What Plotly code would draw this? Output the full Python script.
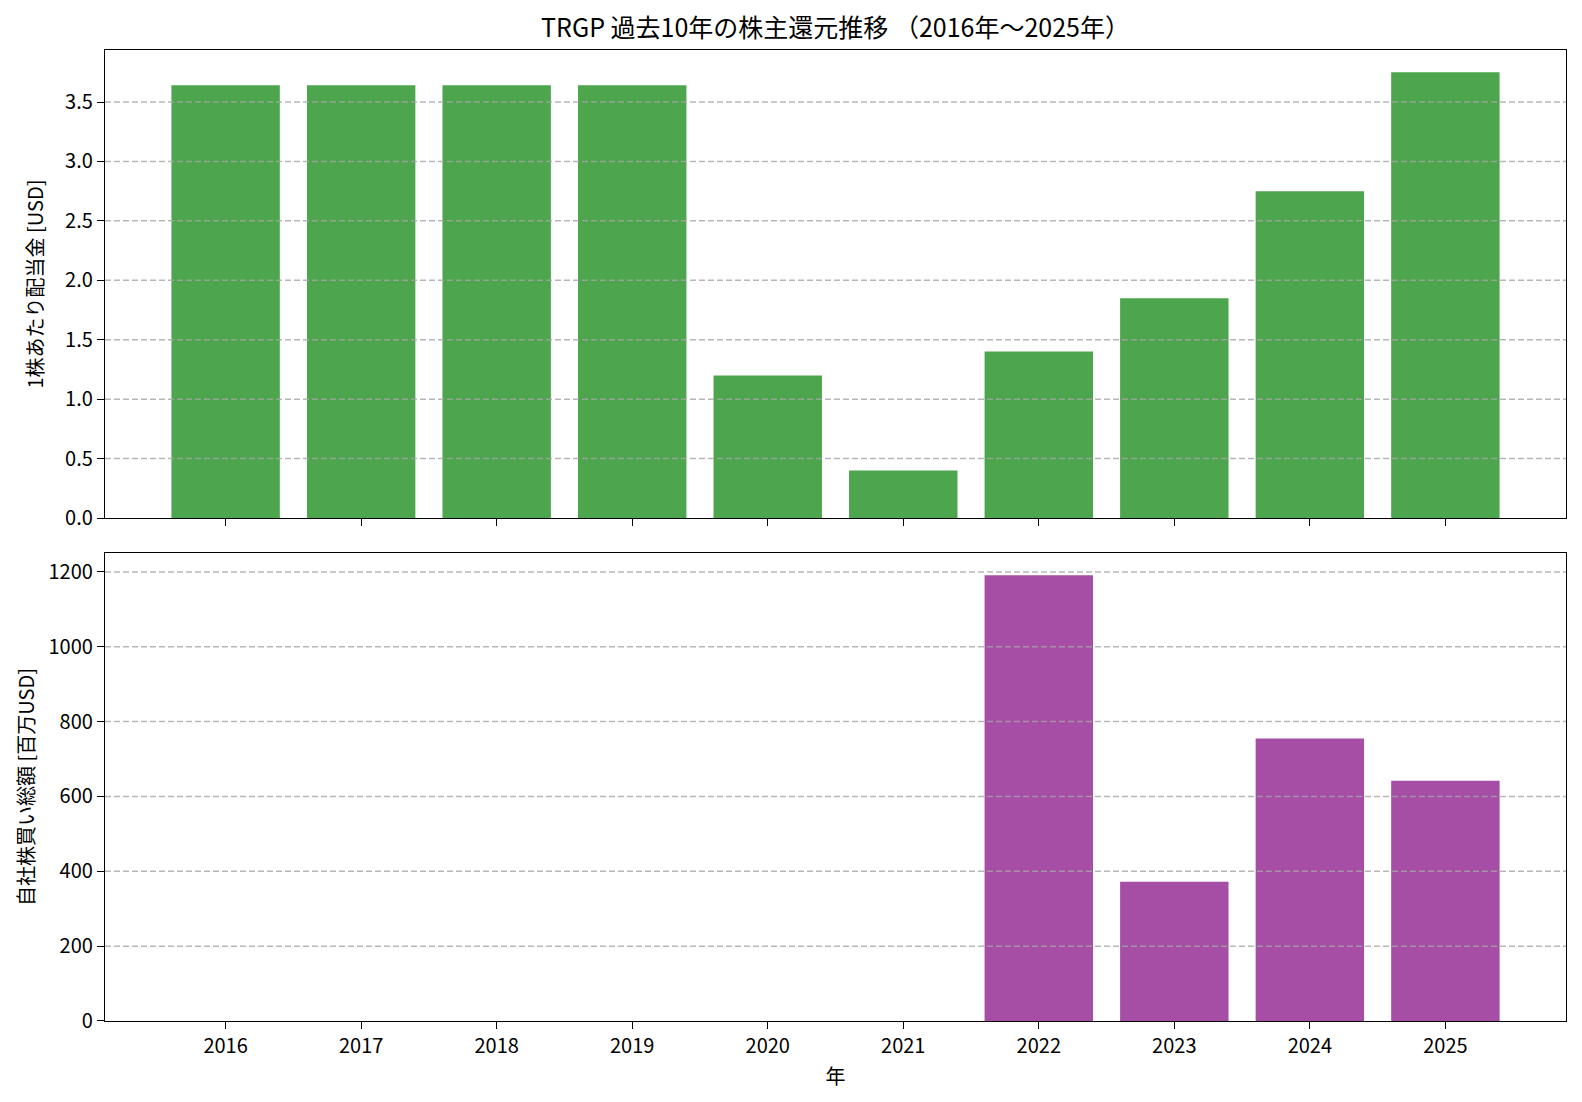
import plotly.graph_objects as go
from plotly.subplots import make_subplots

years = ["2016", "2017", "2018", "2019", "2020", "2021", "2022", "2023", "2024", "2025"]
dividends = [3.64, 3.64, 3.64, 3.64, 1.20, 0.40, 1.40, 1.85, 2.75, 3.75]
buybacks = [0, 0, 0, 0, 0, 0, 1191, 372, 755, 642]
div_ticks = [0.0, 0.5, 1.0, 1.5, 2.0, 2.5, 3.0, 3.5]
bb_ticks = [0, 200, 400, 600, 800, 1000, 1200]

title_text = "TRGP 過去10年の株主還元推移 （2016年～2025年）"
div_label = "1株あたり配当金 [USD]"
bb_label = "自社株買い総額 [百万USD]"
x_label = "年"

FONT = "Noto Sans CJK JP"
W, H = 1582, 1102
ml, mr, mt, mb = 105, 16, 50, 81

fig = make_subplots(rows=2, cols=1, shared_xaxes=True, vertical_spacing=0.036)

fig.add_trace(go.Bar(x=years, y=dividends, marker=dict(color="#4DA64D", line=dict(width=0)),
                     showlegend=False), row=1, col=1)
fig.add_trace(go.Bar(x=years, y=buybacks, marker=dict(color="#A64DA6", line=dict(width=0)),
                     showlegend=False), row=2, col=1)

div_max = max(dividends) * 1.05
bb_max = max(buybacks) * 1.05

axis_common = dict(showline=True, linecolor="black", linewidth=1.3, mirror=True,
                   ticks="outside", ticklen=7, tickwidth=1.3, tickcolor="black",
                   tickfont=dict(family=FONT, size=20, color="black"), showgrid=False,
                   zeroline=False)

fig.update_xaxes(**axis_common, type="category", range=[-0.89, 9.89])
fig.update_xaxes(showticklabels=False, row=1, col=1)
fig.update_xaxes(title=dict(text=x_label, font=dict(family=FONT, size=20, color="black"), standoff=11),
                 row=2, col=1)

fig.update_yaxes(**axis_common)
fig.update_yaxes(range=[0, div_max], tickvals=div_ticks, ticktext=[f"{v:.1f}" for v in div_ticks],
                 domain=[0.518, 1.0],
                 title=dict(text=div_label, font=dict(family=FONT, size=20, color="black"), standoff=16),
                 row=1, col=1)
fig.update_yaxes(range=[0, bb_max], tickvals=bb_ticks, ticktext=[str(v) for v in bb_ticks],
                 domain=[0.0, 0.482],
                 title=dict(text=bb_label, font=dict(family=FONT, size=20, color="black"), standoff=8),
                 row=2, col=1)

# grid lines drawn above the bars (as in the original)
grid_line = dict(color="rgba(165,165,165,0.8)", width=1.5, dash="6px,3px")
for v in div_ticks[1:]:
    fig.add_shape(type="line", xref="x domain", x0=0, x1=1, yref="y", y0=v, y1=v,
                  line=grid_line, layer="above")
for v in bb_ticks[1:]:
    fig.add_shape(type="line", xref="x2 domain", x0=0, x1=1, yref="y2", y0=v, y1=v,
                  line=grid_line, layer="above")

fig.update_layout(
    width=W, height=H,
    margin=dict(l=ml, r=mr, t=mt, b=mb),
    paper_bgcolor="white", plot_bgcolor="white",
    bargap=0.2,
    font=dict(family=FONT, color="black"),
    title=dict(text=title_text, x=(ml + (W - mr - ml) / 2) / W, xanchor="center",
               y=1 - 28 / H, yanchor="middle", yref="container",
               font=dict(family=FONT, size=25, color="black")),
)

fig.write_html("out.html")
